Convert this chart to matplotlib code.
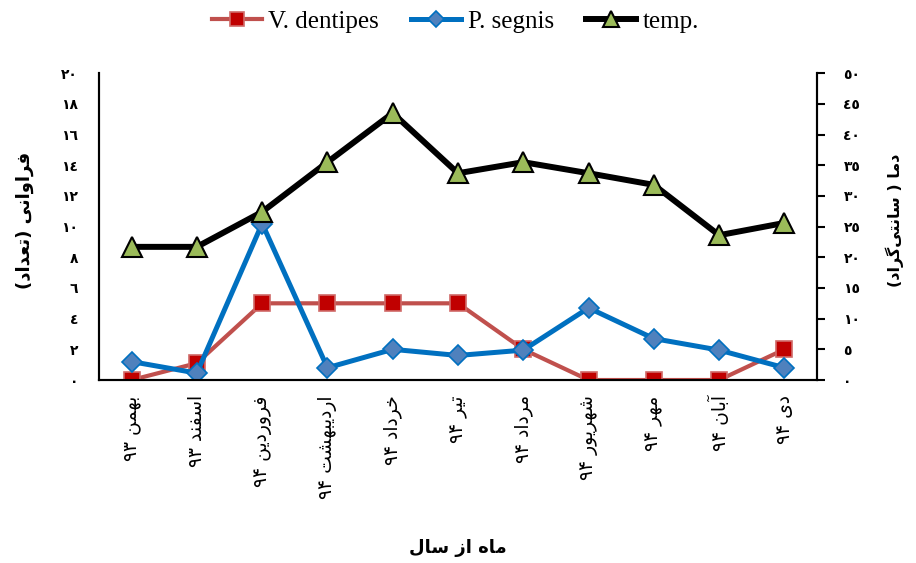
import re
import matplotlib
matplotlib.use("Agg")
import matplotlib.pyplot as plt

months = ['بهمن ۹۳', 'اسفند ۹۳', 'فروردین ۹۴', 'اردیبهشت ۹۴', 'خرداد ۹۴', 'تیر ۹۴',
          'مرداد ۹۴', 'شهریور ۹۴', 'مهر ۹۴', 'آبان ۹۴', 'دی ۹۴']
v_dentipes = [0, 1.1, 5, 5, 5, 5, 2, 0, 0, 0, 2]
p_segnis = [1.2, 0.45, 10.2, 0.8, 2, 1.6, 1.95, 4.7, 2.7, 1.95, 0.8]
temp = [21.7, 21.7, 27.4, 35.5, 43.5, 33.7, 35.5, 33.7, 31.8, 23.6, 25.6]
left_ticks = list(range(0, 21, 2))
right_ticks = list(range(0, 51, 5))
xlabel = 'ماه از سال'
ylabel_left = 'فراوانی (تعداد)'
ylabel_right = 'دما ( سانتی\u200cگراد)'
legend_labels = ['V. dentipes', 'P. segnis', 'temp.']

# Arabic presentation forms: isolated, final, initial, medial
FORMS = {
    'ا': (0xFE8D, 0xFE8E, None, None), 'آ': (0xFE81, 0xFE82, None, None),
    'ب': (0xFE8F, 0xFE90, 0xFE91, 0xFE92), 'ت': (0xFE95, 0xFE96, 0xFE97, 0xFE98),
    'خ': (0xFEA5, 0xFEA6, 0xFEA7, 0xFEA8), 'د': (0xFEA9, 0xFEAA, None, None),
    'ر': (0xFEAD, 0xFEAE, None, None), 'ز': (0xFEAF, 0xFEB0, None, None),
    'س': (0xFEB1, 0xFEB2, 0xFEB3, 0xFEB4), 'ش': (0xFEB5, 0xFEB6, 0xFEB7, 0xFEB8),
    'ع': (0xFEC9, 0xFECA, 0xFECB, 0xFECC), 'ف': (0xFED1, 0xFED2, 0xFED3, 0xFED4),
    'م': (0xFEE1, 0xFEE2, 0xFEE3, 0xFEE4), 'ن': (0xFEE5, 0xFEE6, 0xFEE7, 0xFEE8),
    'ه': (0xFEE9, 0xFEEA, 0xFEEB, 0xFEEC), 'و': (0xFEED, 0xFEEE, None, None),
    'ی': (0xFBFC, 0xFBFD, 0xFBFE, 0xFBFF), 'گ': (0xFB92, 0xFB93, 0xFB94, 0xFB95),
}


def shape(s):
    out = []
    n = len(s)
    for i, c in enumerate(s):
        if c == '\u200c':
            continue
        if c in FORMS:
            prev = s[i - 1] if i > 0 else None
            nxt = s[i + 1] if i < n - 1 else None
            cp = prev in FORMS and FORMS[prev][2] is not None
            cn = nxt in FORMS and FORMS[c][2] is not None
            f = FORMS[c]
            if cp and cn:
                g = f[3]
            elif cp:
                g = f[1]
            elif cn:
                g = f[2]
            else:
                g = f[0]
            out.append(chr(g))
        else:
            out.append(c)
    tokens = re.findall(r'[0-9\u06F0-\u06F9\u0660-\u0669]+|.', ''.join(out))
    tokens = tokens[::-1]
    mirror = {'(': ')', ')': '('}
    return ''.join(mirror.get(t, t) for t in tokens)


def ar_digits(v):
    return ''.join(chr(0x0660 + int(d)) for d in str(v))


plt.rcParams['font.family'] = ['DejaVu Sans']
fig = plt.figure(figsize=(9.16, 5.63), dpi=100)
ax = fig.add_axes([0.108, 0.325, 0.784, 0.545])
ax2 = ax.twinx()

x = list(range(len(months)))
l1, = ax.plot(x, v_dentipes, color='#C0504D', lw=3, marker='s', ms=12,
              mfc='#C00000', mec='#D06A68', mew=1.2, zorder=3)
l2, = ax.plot(x, p_segnis, color='#0070C0', lw=3.6, marker='D', ms=10,
              mfc='#4F81BD', mec='#0070C0', mew=1.2, zorder=4)
l3, = ax2.plot(x, temp, color='black', lw=4.3, marker='^', ms=14,
               mfc='#9BBB59', mec='black', mew=1.5, zorder=3)

ax.set_xlim(-0.5, len(months) - 0.5)
ax.set_ylim(0, 20)
ax2.set_ylim(0, 50)

ax.set_yticks(left_ticks)
ax.set_yticklabels([ar_digits(t) for t in left_ticks], fontweight='bold', fontsize=10)
ax.tick_params(axis='y', length=0, pad=15)
ax2.set_yticks(right_ticks)
ax2.set_yticklabels([ar_digits(t) for t in right_ticks], fontweight='bold', fontsize=10)
ax2.tick_params(axis='y', length=6, width=1.5, direction='out', pad=13)

ax.set_xticks(x)
ax.set_xticklabels([shape(m) for m in months], rotation=90, fontsize=13.5, va='top')
ax.tick_params(axis='x', length=0, pad=11)

for a in (ax, ax2):
    a.spines['top'].set_visible(False)
    for sp in ('left', 'right', 'bottom'):
        a.spines[sp].set_linewidth(1.5)
        a.spines[sp].set_color('black')

fig.text(0.5, 1 - 548 / 563, shape(xlabel), fontsize=13, fontweight='bold',
         ha='center', va='center')
fig.text(0.027, 1 - 220 / 563, shape(ylabel_left), rotation=90, fontsize=13,
         fontweight='bold', ha='center', va='center')
fig.text(0.977, 1 - 220 / 563, shape(ylabel_right), rotation=90, fontsize=11.5,
         fontweight='bold', ha='center', va='center')

fig.legend([l1, l2, l3], legend_labels, loc='upper center', bbox_to_anchor=(0.497, 1.022),
           ncol=3, frameon=False, handlelength=2.0, columnspacing=1.3, handletextpad=0.25,
           markerscale=0.85, prop={'family': 'Liberation Serif', 'size': 18})

fig.savefig('out.png', dpi=100)
